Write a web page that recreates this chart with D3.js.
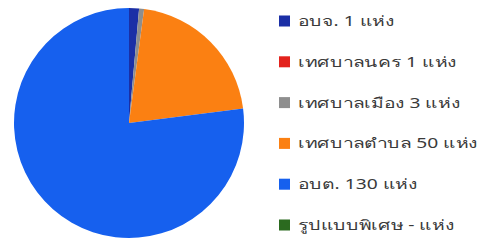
<!DOCTYPE html>
<html><head><meta charset="utf-8">
<script src="https://cdn.jsdelivr.net/npm/d3@7"></script>
<style>html,body{margin:0;padding:0;background:#fff;}svg{display:block;}</style>
</head><body>
<svg id="c" width="483" height="246"></svg>
<script>
const categories = ["อบจ.", "เทศบาลนคร", "เทศบาลเมือง", "เทศบาลตำบล", "อบต.", "รูปแบบพิเศษ"];
const counts = ["1", "1", "3", "50", "130", "-"];
const shares = [1.4, 0, 0.7, 20.9, 77.0, 0];
const colors = ["#1b2fa6", "#e3221c", "#8e8e8e", "#fb8012", "#1660ee", "#2b6a1f"];

const svg = d3.select("#c");
const cx = 129, cy = 123, r = 115;
const pie = d3.pie().sort(null).value(d => d.v);
const data = categories.map((c, i) => ({c, n: counts[i], v: shares[i], col: colors[i]}));
const arc = d3.arc().innerRadius(0).outerRadius(r);
svg.append("g").attr("transform", `translate(${cx},${cy})`)
  .selectAll("path").data(pie(data)).join("path")
  .attr("d", arc).attr("fill", d => d.data.col);

const y = d3.scalePoint().domain(categories).range([21, 225]);
const lg = svg.append("g");
const row = lg.selectAll("g").data(data).join("g")
  .attr("transform", d => `translate(279,${y(d.c)})`);
row.append("rect").attr("x", 0).attr("y", -5.5).attr("width", 11).attr("height", 11).attr("fill", d => d.col);
const texts = row.append("text").attr("y", 0).attr("dy", "0.36em")
  .attr("font-family", "Noto Sans, sans-serif").attr("font-size", 14).attr("fill", "#3a3a3a")
  .text(d => `${d.c} ${d.n} แห่ง`);
let maxW = 0;
texts.each(function(){ maxW = Math.max(maxW, this.getComputedTextLength()); });
const sx = Math.max(1, 182 / maxW);
texts.attr("transform", `translate(19,0) scale(${sx},1)`);
</script>
</body></html>
